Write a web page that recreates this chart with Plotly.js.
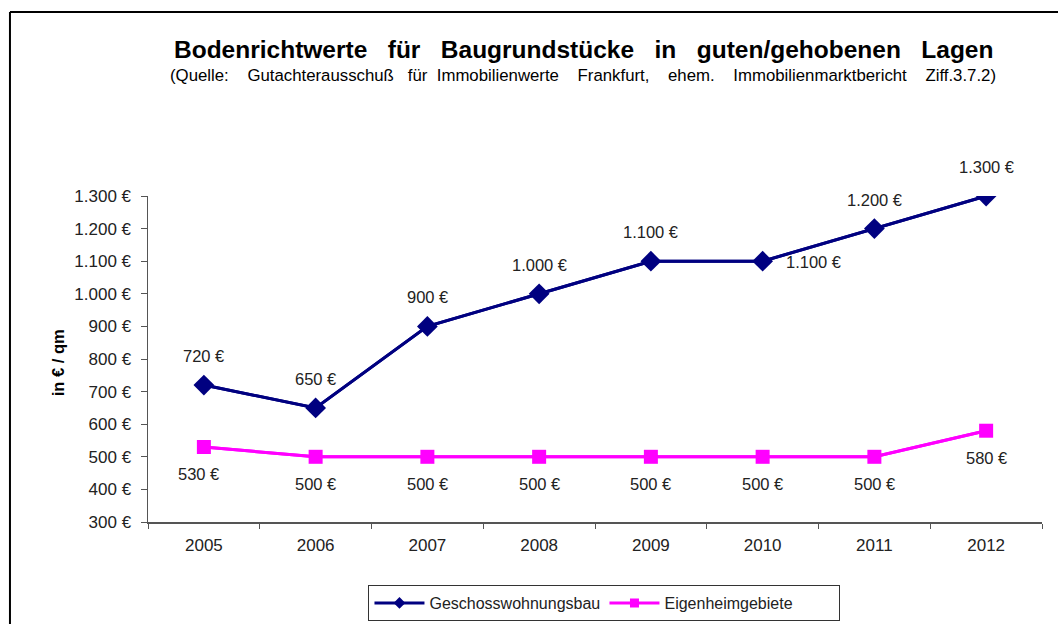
<!DOCTYPE html>
<html>
<head>
<meta charset="utf-8">
<script src="https://cdn.plot.ly/plotly-3.0.1.min.js"></script>
<style>html,body{margin:0;padding:0;background:#fff;}#chart{width:1058px;height:624px;}</style>
</head>
<body>
<div id="chart"></div>
<script>
const years = ['2005','2006','2007','2008','2009','2010','2011','2012'];
const geschoss = [720, 650, 900, 1000, 1100, 1100, 1200, 1300];
const eigenheim = [530, 500, 500, 500, 500, 500, 500, 580];
const yTickVals = [300,400,500,600,700,800,900,1000,1100,1200,1300];
const seriesNames = ['Geschosswohnungsbau', 'Eigenheimgebiete'];

function fmt(v){
  const s = String(v);
  return s.replace(/\B(?=(\d{3})+(?!\d))/g, '.') + ' €';
}
const yTickText = yTickVals.map(fmt);

const FONT = 'Liberation Sans, Arial, sans-serif';
const NB = '\u00A0';
const BLUE = '#000080';
const MAG = '#FF00FF';

const traces = [
  // legend entries (drawn underneath the main traces, with small legend markers)
  { x: years, y: geschoss, name: seriesNames[0], type: 'scatter', mode: 'lines+markers',
    line: {color: BLUE, width: 3}, marker: {symbol: 'diamond', size: 9, color: BLUE}, hoverinfo: 'skip' },
  { x: years, y: eigenheim, name: seriesNames[1], type: 'scatter', mode: 'lines+markers',
    line: {color: MAG, width: 3}, marker: {symbol: 'square', size: 9, color: MAG}, hoverinfo: 'skip' },
  // main traces
  { x: years, y: geschoss, name: seriesNames[0], type: 'scatter', mode: 'lines+markers', showlegend: false,
    line: {color: BLUE, width: 3}, marker: {symbol: 'diamond', size: 16, color: BLUE} },
  { x: years, y: eigenheim, name: seriesNames[1], type: 'scatter', mode: 'lines+markers', showlegend: false,
    line: {color: MAG, width: 3}, marker: {symbol: 'square', size: 14, color: MAG} }
];

const LBL = {family: FONT, size: 16.5, color: '#222'};
const annotations = [];
geschoss.forEach((v, i) => {
  const right = (i > 0 && geschoss[i-1] === v);
  annotations.push({
    x: i, y: v, xref: 'x', yref: 'y', text: fmt(v), showarrow: false,
    xanchor: 'center', yanchor: 'middle',
    xshift: right ? 51 : 0, yshift: right ? -1 : 29, font: LBL
  });
});
eigenheim.forEach((v, i) => {
  annotations.push({
    x: i, y: v, xref: 'x', yref: 'y', text: fmt(v), showarrow: false,
    xanchor: 'center', yanchor: 'middle',
    xshift: i === 0 ? -5 : 0, yshift: -27, font: LBL
  });
});
const S3 = NB + NB + ' ';
annotations.push({
  xref: 'paper', yref: 'paper', x: 0.4866, y: 1.448, xanchor: 'center', yanchor: 'middle', showarrow: false,
  text: '<b>Bodenrichtwerte' + S3 + 'für' + S3 + 'Baugrundstücke' + S3 + 'in' + S3 + 'guten/gehobenen' + S3 + 'Lagen</b>',
  font: {family: FONT, size: 24.5, color: '#000'}
});
annotations.push({
  xref: 'paper', yref: 'paper', x: 0.4866, y: 1.371, xanchor: 'center', yanchor: 'middle', showarrow: false,
  text: '(Quelle:' + NB + NB + NB + ' Gutachterausschuß' + NB + NB + ' für' + NB + ' Immobilienwerte' + NB + NB + NB + ' Frankfurt,' + NB + NB + NB + ' ehem.' + NB + NB + NB + ' Immobilienmarktbericht' + NB + NB + NB + ' Ziff.3.7.2)',
  font: {family: FONT, size: 16.8, color: '#000'}
});
annotations.push({
  xref: 'paper', yref: 'paper', x: -0.1007, y: 0.49, xanchor: 'center', yanchor: 'middle', showarrow: false, textangle: -90,
  text: '<b>in € / qm</b>', font: {family: FONT, size: 16.5, color: '#000'}
});

const layout = {
  width: 1058, height: 624,
  margin: {l: 148, r: 16, t: 196, b: 102},
  paper_bgcolor: '#fff', plot_bgcolor: '#fff',
  showlegend: true,
  legend: {
    orientation: 'h', x: 0.5106, xanchor: 'center', xref: 'paper',
    y: 0.0625, yanchor: 'top', yref: 'container',
    bordercolor: '#333', borderwidth: 1, bgcolor: '#fff',
    font: {family: FONT, size: 16, color: '#222'},
    itemwidth: 50, tracegroupgap: 0, traceorder: 'normal',
    entrywidth: 170, entrywidthmode: 'pixels'
  },
  xaxis: {
    type: 'category', range: [-0.5, 7.5], tickson: 'boundaries',
    ticks: 'outside', ticklen: 5, tickcolor: '#555', tickwidth: 1,
    showline: true, linecolor: '#555', linewidth: 1.5, showgrid: false, zeroline: false,
    tickfont: {family: FONT, size: 17, color: '#222'}, ticklabelstandoff: 7
  },
  yaxis: {
    range: [300, 1300], tickvals: yTickVals, ticktext: yTickText, tickmode: 'array',
    ticks: 'outside', ticklen: 6, tickcolor: '#555', tickwidth: 1,
    showline: true, linecolor: '#555', linewidth: 1.5, showgrid: false, zeroline: false,
    tickfont: {family: FONT, size: 17, color: '#222'}, ticklabelstandoff: 6
  },
  shapes: [
    {type: 'line', xref: 'paper', yref: 'paper', x0: -0.1544, x1: -0.1544, y0: 1.5644, y1: -0.35, line: {color: '#000', width: 2}},
    {type: 'line', xref: 'paper', yref: 'paper', x0: -0.1544, x1: 1.05, y0: 1.5644, y1: 1.5644, line: {color: '#000', width: 2}}
  ],
  annotations: annotations
};

Plotly.newPlot('chart', traces, layout, {displayModeBar: false, staticPlot: true});
</script>
</body>
</html>
